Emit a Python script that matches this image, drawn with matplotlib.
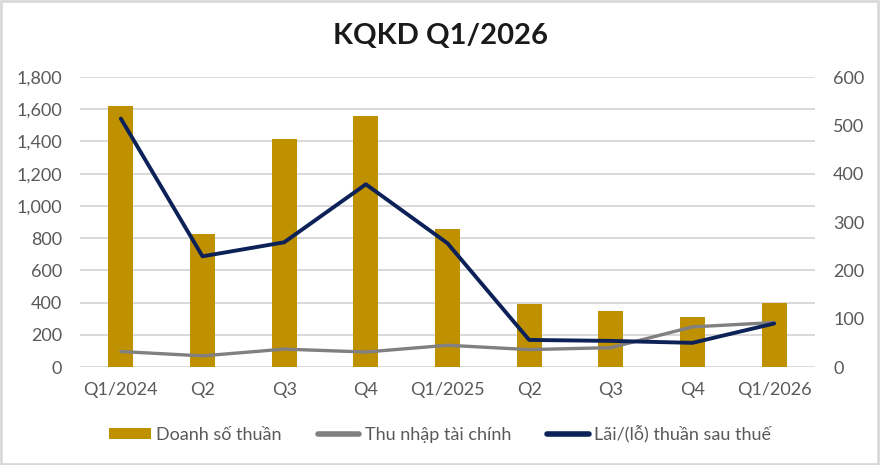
import matplotlib
matplotlib.use("Agg")
import matplotlib.pyplot as plt
from matplotlib.patches import Rectangle
from matplotlib.ticker import FuncFormatter, MultipleLocator

categories = ["Q1/2024", "Q2", "Q3", "Q4", "Q1/2025", "Q2", "Q3", "Q4", "Q1/2026"]
doanh_so_thuan = [1620, 828, 1415, 1560, 858, 388, 345, 312, 395]
thu_nhap_tai_chinh = [32, 23, 37, 31, 45, 36, 40, 83, 92]
lai_lo_thuan = [514, 229, 258, 378, 256, 56, 54, 50, 90]

GOLD = "#BF9000"
GRAY = "#808080"
NAVY = "#0C2157"
TXT = "#595959"
GRID = "#D9D9D9"

plt.rcParams["font.family"] = ["Lato", "DejaVu Sans"]

fig = plt.figure(figsize=(8.8, 4.65), dpi=100)
ax = fig.add_axes([80 / 880, 1 - 367 / 465, 735 / 880, 290 / 465])
ax2 = ax.twinx()

x = list(range(len(categories)))
bars = ax.bar(x, doanh_so_thuan, width=0.31, color=GOLD, zorder=2, label="Doanh số thuần")
l1, = ax2.plot(x, thu_nhap_tai_chinh, color=GRAY, lw=2.4, solid_capstyle="round",
               solid_joinstyle="round", label="Thu nhập tài chính", zorder=3)
l2, = ax2.plot(x, lai_lo_thuan, color=NAVY, lw=2.8, solid_capstyle="round",
               solid_joinstyle="round", label="Lãi/(lỗ) thuần sau thuế", zorder=4)

ax.set_xlim(-0.5, len(categories) - 0.5)
ax.set_ylim(0, 1800)
ax2.set_ylim(0, 600)
ax.yaxis.set_major_locator(MultipleLocator(200))
ax2.yaxis.set_major_locator(MultipleLocator(100))
ax.yaxis.set_major_formatter(FuncFormatter(lambda v, p: f"{int(v):,}"))
ax.grid(axis="y", color=GRID, lw=1.4, zorder=0)
ax.set_axisbelow(True)
ax.set_xticks(x)
ax.set_xticklabels(categories)

for a in (ax, ax2):
    for s in a.spines.values():
        s.set_visible(False)
    a.tick_params(length=0, labelsize=13, labelcolor=TXT)
ax.tick_params(axis="y", pad=13)
ax2.tick_params(axis="y", pad=13)
ax.tick_params(axis="x", pad=11)

fig.text(0.5, 1 - 36 / 465, "KQKD Q1/2026", ha="center", va="center",
         fontsize=21, fontweight="bold", color="#1a1a1a")

leg = fig.legend([bars, l1, l2],
                 ["Doanh số thuần", "Thu nhập tài chính", "Lãi/(lỗ) thuần sau thuế"],
                 loc="center", bbox_to_anchor=(0.5, 1 - 434 / 465), ncol=3,
                 frameon=False, fontsize=13, handlelength=2.3, handleheight=0.55,
                 handletextpad=0.3, columnspacing=2.0, labelcolor=TXT)
for h in leg.legend_handles[1:]:
    h.set_linewidth(4)

fig.patches.append(Rectangle((0.001, 0.002), 0.997, 0.995, transform=fig.transFigure,
                             fill=False, edgecolor="#D9D9D9", lw=2))

fig.savefig("out.png", dpi=100, facecolor="white")
